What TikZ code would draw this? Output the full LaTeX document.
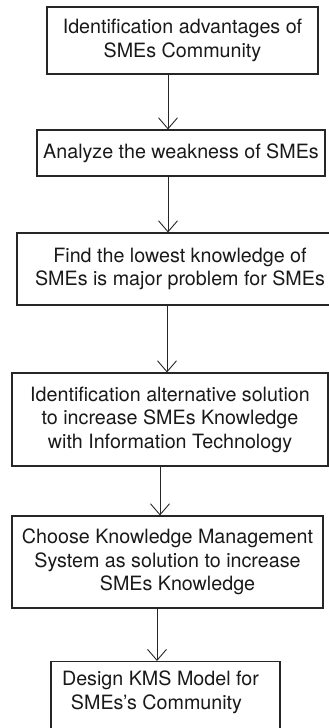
\documentclass[tikz,border=0pt]{standalone}
\usepackage{fontspec}
\setmainfont{TeX Gyre Heros}
\usetikzlibrary{arrows.meta}
\begin{document}
\begin{tikzpicture}[x=1pt,y=1pt,
  stage/.style={draw=black!85, line width=1.1pt, inner sep=0pt, align=center,
    font=\fontsize{19.7}{23.5}\selectfont, text=black!90},
  flow/.style={line width=0.9pt, draw=black!85,
    -{Straight Barb[length=11pt,width=19pt,line width=0.9pt]}}]
\clip (0,0) rectangle (329,-728);

% process stages, top to bottom
\node[stage, minimum width=271pt, minimum height=67pt] (s1) at (182.5,-40.5)
  {Identification advantages of\\SMEs Community};
\node[stage, minimum width=288pt, minimum height=46pt] (s2) at (181,-153)
  {Analyze the weakness of SMEs};
\node[stage, minimum width=326pt, minimum height=72pt] (s3) at (180,-269)
  {Find the lowest knowledge of\\SMEs is major problem for SMEs};
\node[stage, minimum width=316pt, minimum height=93pt] (s4) at (170,-419.5)
  {Identification alternative solution\\to increase SMEs Knowledge\\with Information Technology};
\node[stage, minimum width=311pt, minimum height=92pt] (s5) at (167.5,-562)
  {Choose Knowledge Management\\System as solution to increase\\\hspace*{20pt}SMEs Knowledge};
\node[stage, minimum width=229pt, inner ysep=9.5pt, anchor=north] (s6) at (165.5,-661)
  {Design KMS Model for\hspace*{10pt}\\SMEs’s Community\hspace*{18pt}\rule[-60pt]{0pt}{60pt}};

% connectors
\draw[flow] ([xshift=-14.5pt]s1.south) -- ([xshift=-13pt]s2.north);
\draw[flow] ([xshift=-13pt]s2.south) -- ([xshift=-12pt]s3.north);
\draw[flow] ([xshift=-13pt]s3.south) -- ([xshift=-3pt]s4.north);
\draw[flow] ([xshift=-10pt]s4.south) -- ([xshift=-7.5pt]s5.north);
\draw[flow] ([xshift=-10.5pt]s5.south) -- ([xshift=-8.5pt]s6.north);
\end{tikzpicture}
\end{document}
